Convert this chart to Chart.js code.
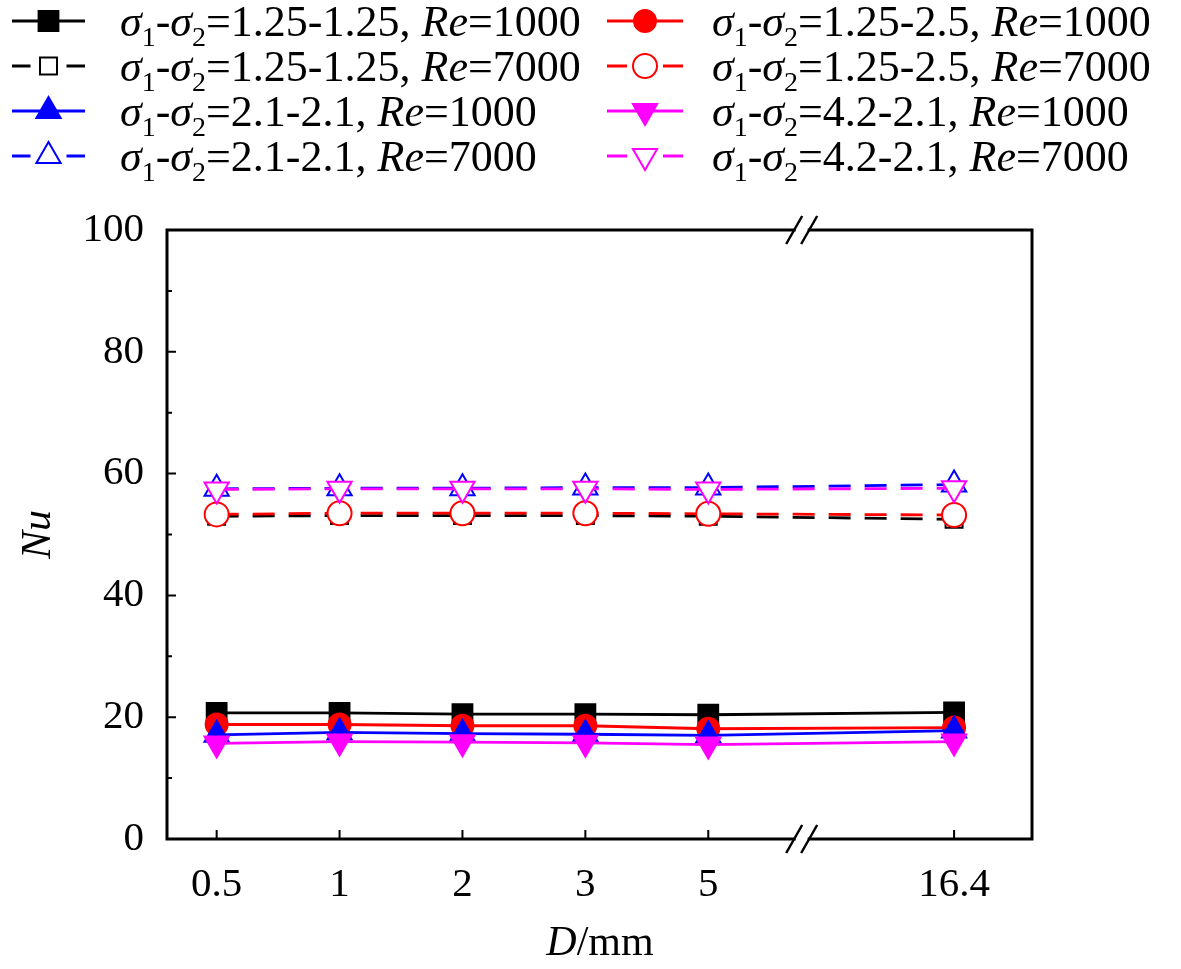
<!DOCTYPE html>
<html>
<head>
<meta charset="utf-8">
<script src="https://cdn.jsdelivr.net/npm/chart.js@4.4.1/dist/chart.umd.min.js"></script>
<style>
  html, body { margin: 0; padding: 0; background: #ffffff; }
  #wrap { width: 1181px; height: 969px; }
</style>
</head>
<body>
<div id="wrap"><canvas id="c" width="1181" height="969"></canvas></div>
<script>
// x categories on a broken axis (slot = position along axis, 5 is skipped by the break)
const xLabels = ['0.5', '1', '2', '3', '5', '16.4'];
const xSlots = [0, 1, 2, 3, 4, 6];
const breakAt = 4.76;

const yTicks = [0, 20, 40, 60, 80, 100];

// Nu values
const nu_125_125_re1000 = [20.7, 20.7, 20.5, 20.5, 20.4, 20.8];
const nu_125_125_re7000 = [53.0, 53.1, 53.1, 53.1, 53.0, 52.5];
const nu_21_21_re1000 = [17.1, 17.5, 17.3, 17.2, 17.0, 17.8];
const nu_21_21_re7000 = [57.5, 57.6, 57.6, 57.7, 57.7, 58.2];
const nu_125_25_re1000 = [18.8, 18.8, 18.6, 18.6, 18.1, 18.3];
const nu_125_25_re7000 = [53.3, 53.5, 53.5, 53.5, 53.4, 53.2];
const nu_42_21_re1000 = [15.7, 16.0, 15.9, 15.8, 15.5, 16.0];
const nu_42_21_re7000 = [57.4, 57.5, 57.5, 57.5, 57.4, 57.6];

const sigmaLabels = ['1.25-1.25', '1.25-1.25', '2.1-2.1', '2.1-2.1', '1.25-2.5', '1.25-2.5', '4.2-2.1', '4.2-2.1'];
const reLabels = ['1000', '7000', '1000', '7000', '1000', '7000', '1000', '7000'];

const FONT = '"Liberation Serif", "Times New Roman", serif';

const toPoints = vals => vals.map((v, i) => ({ x: xSlots[i], y: v }));

function series(vals, color, style, filled, dashed, order, radius, rotation) {
    return {
        data: toPoints(vals),
        borderColor: color,
        backgroundColor: color,
        borderWidth: 2.8,
        borderDash: dashed ? [22, 14] : [],
        pointStyle: style,
        pointRadius: radius,
        pointRotation: rotation || 0,
        pointBackgroundColor: filled ? color : '#ffffff',
        pointBorderColor: color,
        pointBorderWidth: 2,
        tension: 0,
        order: order,
        isDashed: dashed
    };
}

const datasets = [
    series(nu_125_125_re1000, '#000000', 'rect', true, false, 3, 14),
    series(nu_125_125_re7000, '#000000', 'rect', false, true, 3, 12),
    series(nu_21_21_re1000, '#0000ff', 'triangle', true, false, 1, 14),
    series(nu_21_21_re7000, '#0000ff', 'triangle', false, true, 1, 14),
    series(nu_125_25_re1000, '#ff0000', 'circle', true, false, 2, 11),
    series(nu_125_25_re7000, '#ff0000', 'circle', false, true, 2, 12),
    series(nu_42_21_re1000, '#ff00ff', 'triangle', true, false, 0, 14, 180),
    series(nu_42_21_re7000, '#ff00ff', 'triangle', false, true, 0, 14, 180)
];

// draw text made of plain / italic / subscript pieces
function drawRich(ctx, segs, x, baseline, size, align) {
    const fontOf = s => (s.i ? 'italic ' : '') + (s.sub ? Math.round(size * 0.64) : size) + 'px ' + FONT;
    let total = 0;
    segs.forEach(s => { ctx.font = fontOf(s); total += ctx.measureText(s.t).width; });
    let cx = align === 'center' ? x - total / 2 : x;
    ctx.textAlign = 'left';
    ctx.textBaseline = 'alphabetic';
    segs.forEach(s => {
        ctx.font = fontOf(s);
        ctx.fillText(s.t, cx, baseline + (s.sub ? size * 0.22 : 0));
        cx += ctx.measureText(s.t).width;
    });
}

const bgPlugin = {
    id: 'bg',
    beforeDraw(chart) {
        const ctx = chart.ctx;
        ctx.save();
        ctx.fillStyle = '#ffffff';
        ctx.fillRect(0, 0, chart.width, chart.height);
        ctx.restore();
    }
};

const framePlugin = {
    id: 'frame',
    afterDraw(chart) {
        const ctx = chart.ctx;
        const { left, right, top, bottom } = chart.chartArea;
        const xs = chart.scales.x, ys = chart.scales.y;
        ctx.save();
        ctx.strokeStyle = '#000000';
        ctx.lineWidth = 3;
        ctx.setLineDash([]);
        ctx.strokeRect(left, top, right - left, bottom - top);

        // inward ticks
        ctx.lineWidth = 2;
        ctx.beginPath();
        for (let v = 10; v < 100; v += 10) {
            const py = ys.getPixelForValue(v);
            const len = v % 20 === 0 ? 9 : 5;
            ctx.moveTo(left, py);
            ctx.lineTo(left + len, py);
        }
        xSlots.forEach(s => {
            const px = xs.getPixelForValue(s);
            ctx.moveTo(px, bottom);
            ctx.lineTo(px, bottom - 9);
        });
        ctx.stroke();

        // axis break marks
        const bx = xs.getPixelForValue(breakAt);
        [top, bottom].forEach(ay => {
            ctx.fillStyle = '#ffffff';
            ctx.fillRect(bx - 6, ay - 3, 12, 6);
            ctx.lineWidth = 2.5;
            ctx.beginPath();
            [-7.5, 7.5].forEach(d => {
                ctx.moveTo(bx + d - 8, ay + 14);
                ctx.lineTo(bx + d + 8, ay - 14);
            });
            ctx.stroke();
        });

        // axis titles
        ctx.fillStyle = '#000000';
        ctx.save();
        ctx.translate(36, (top + bottom) / 2);
        ctx.rotate(-Math.PI / 2);
        drawRich(ctx, [{ t: 'Nu', i: 1 }], 0, 14, 42, 'center');
        ctx.restore();
        drawRich(ctx, [{ t: 'D', i: 1 }, { t: '/mm' }], 600, 955, 42, 'center');

        // legend
        const cols = [{ x0: 12, x1: 85, tx: 120 }, { x0: 607, x1: 683, tx: 712 }];
        const rows = [21, 66, 111, 156];
        chart.data.datasets.forEach((ds, i) => {
            const col = cols[Math.floor(i / 4)];
            const cy = rows[i % 4];
            const mx = (col.x0 + col.x1) / 2;
            ctx.strokeStyle = ds.borderColor;
            ctx.lineWidth = 2.8;
            ctx.setLineDash([]);
            ctx.beginPath();
            if (ds.isDashed) {
                ctx.moveTo(col.x0, cy); ctx.lineTo(mx - 18, cy);
                ctx.moveTo(mx + 18, cy); ctx.lineTo(col.x1, cy);
            } else {
                ctx.moveTo(col.x0, cy); ctx.lineTo(col.x1, cy);
            }
            ctx.stroke();
            ctx.fillStyle = ds.pointBackgroundColor;
            ctx.strokeStyle = ds.pointBorderColor;
            ctx.lineWidth = ds.pointBorderWidth;
            Chart.helpers.drawPoint(ctx, {
                pointStyle: ds.pointStyle,
                radius: ds.pointRadius,
                rotation: ds.pointRotation,
                borderWidth: ds.pointBorderWidth
            }, mx, cy);
            ctx.fillStyle = '#000000';
            drawRich(ctx, [
                { t: 'σ', i: 1 }, { t: '1', sub: 1 }, { t: '-' },
                { t: 'σ', i: 1 }, { t: '2', sub: 1 },
                { t: '=' + sigmaLabels[i] + ', ' },
                { t: 'Re', i: 1 }, { t: '=' + reLabels[i] }
            ], col.tx, cy + 15, 44, 'left');
        });
        ctx.restore();
    }
};

new Chart(document.getElementById('c'), {
    type: 'line',
    data: { datasets: datasets },
    options: {
        responsive: false,
        devicePixelRatio: 1,
        animation: false,
        layout: { padding: { top: 230, right: 149, left: 0, bottom: 0 } },
        plugins: { legend: { display: false }, tooltip: { enabled: false } },
        scales: {
            x: {
                type: 'linear',
                min: -0.404,
                max: 6.634,
                afterFit: s => { s.height = 130; },
                afterBuildTicks: s => { s.ticks = xSlots.map(v => ({ value: v })); },
                grid: { display: false },
                border: { display: false },
                ticks: {
                    padding: 14,
                    color: '#000000',
                    font: { family: FONT, size: 41 },
                    maxRotation: 0,
                    autoSkip: false,
                    callback: v => xLabels[xSlots.indexOf(v)]
                }
            },
            y: {
                min: 0,
                max: 100,
                afterFit: s => { s.width = 167; },
                afterBuildTicks: s => { s.ticks = yTicks.map(v => ({ value: v })); },
                grid: { display: false },
                border: { display: false },
                ticks: {
                    padding: 15,
                    color: '#000000',
                    font: { family: FONT, size: 41 }
                }
            }
        }
    },
    plugins: [bgPlugin, framePlugin]
});
</script>
</body>
</html>
